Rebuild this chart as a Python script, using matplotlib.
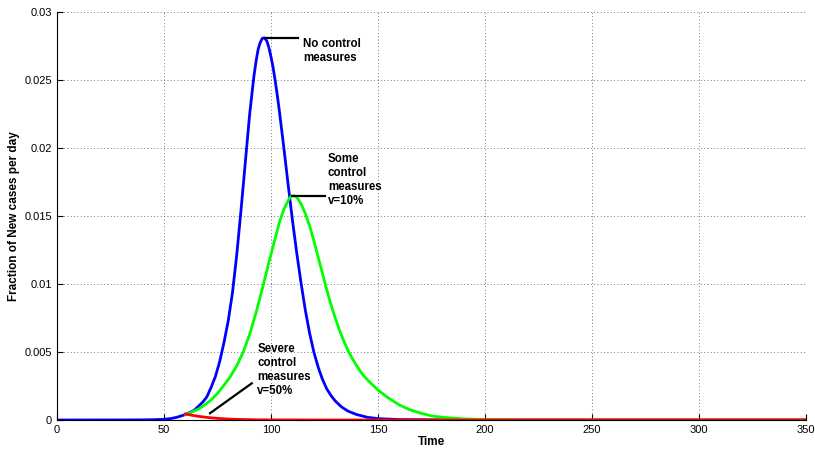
import matplotlib
matplotlib.use("Agg")
import matplotlib.pyplot as plt

plt.rcParams["font.family"] = ["Liberation Sans", "DejaVu Sans"]

# ── curves (time in days, fraction of new cases/day) ──
t_none = [0, 20, 30, 40, 45, 50, 53, 56, 58, 60, 62, 64, 66, 68, 70, 72, 74,
          76, 78, 80, 82, 84, 86, 88, 90, 92, 93, 94, 95, 96, 97, 98, 99, 100,
          101, 102, 103, 104, 106, 108, 110, 112, 114, 116, 118, 120, 122, 124,
          126, 128, 130, 133, 136, 140, 145, 150, 160, 180, 200, 350]
y_none = [0.0, 0.000001, 0.000003, 0.00001, 0.00002, 0.00005, 0.0001, 0.0002,
          0.0003, 0.0004, 0.00055, 0.0007, 0.001, 0.0013, 0.0017, 0.0024,
          0.0032, 0.0043, 0.0057, 0.0073, 0.0094, 0.0122, 0.0155, 0.0190,
          0.0225, 0.0253, 0.0264, 0.0273, 0.0278, 0.0281, 0.0281, 0.0279,
          0.0274, 0.0267, 0.0259, 0.0249, 0.0238, 0.0226, 0.0200, 0.0173,
          0.0147, 0.0123, 0.0101, 0.0081, 0.0064, 0.0050, 0.0039, 0.0030,
          0.0023, 0.0018, 0.0014, 0.00095, 0.00065, 0.0004, 0.0002, 0.0001,
          0.00003, 0.000005, 0.0, 0.0]

t_some = [60, 63, 66, 69, 72, 75, 78, 81, 84, 87, 90, 93, 96, 99, 102, 104,
          106, 108, 109, 110, 111, 112, 114, 116, 118, 120, 122, 124, 126, 128,
          130, 132, 134, 136, 138, 140, 143, 146, 150, 155, 160, 165, 170, 175,
          180, 190, 200, 220, 350]
y_some = [0.0004, 0.00058, 0.0008, 0.0011, 0.00148, 0.00196, 0.00255, 0.0032,
          0.0040, 0.0050, 0.0063, 0.0079, 0.0097, 0.0116, 0.0134, 0.0146,
          0.0155, 0.01615, 0.0164, 0.0165, 0.01648, 0.0164, 0.0159, 0.0152,
          0.0143, 0.0132, 0.0120, 0.0108, 0.0096, 0.0085, 0.0075, 0.0066,
          0.0058, 0.0051, 0.0045, 0.0040, 0.0033, 0.0028, 0.0022, 0.0016,
          0.0011, 0.00075, 0.0005, 0.0003, 0.0002, 0.00008, 0.00003, 0.000005,
          0.0]

t_severe = [60, 63, 66, 70, 75, 80, 85, 95, 120, 350]
y_severe = [0.00044, 0.00035, 0.00027, 0.00019, 0.00012, 0.00007, 0.00004,
            0.00001, 0.0, 0.0]

x_ticks = [0, 50, 100, 150, 200, 250, 300, 350]
y_ticks = [0, 0.005, 0.01, 0.015, 0.02, 0.025, 0.03]
y_tick_labels = ["0", "0.005", "0.01", "0.015", "0.02", "0.025", "0.03"]

fig = plt.figure(figsize=(8.15, 4.5), dpi=100)
ax = fig.add_axes([0.070, 0.0667, 0.919, 0.906])

line_kw = dict(lw=2, solid_joinstyle="round")
ax.plot(t_none, y_none, color="#0000ff", **line_kw)
ax.plot(t_some, y_some, color="#00ff00", **line_kw)
ax.plot(t_severe, y_severe, color="#ff0000", **line_kw)

ax.set_xlim(0, 350)
ax.set_ylim(0, 0.03)
ax.set_xticks(x_ticks)
ax.set_yticks(y_ticks)
ax.set_yticklabels(y_tick_labels)
ax.tick_params(direction="in", length=4, labelsize=8, width=0.8)
ax.spines["top"].set_visible(False)
ax.spines["right"].set_visible(False)
ax.grid(True, color="0.3", linestyle=(0, (1, 3)), linewidth=0.6)
ax.set_axisbelow(True)

ax.set_xlabel("Time", fontsize=8.5, fontweight="bold", labelpad=1)
ax.set_ylabel("Fraction of New cases per day", fontsize=8.5,
              fontweight="bold", labelpad=3)

# ── annotations ──
kw = dict(fontsize=8.3, fontweight="bold", linespacing=1.2)
ax.plot([97, 112.5], [0.0281, 0.0281], color="black", lw=1.6)
ax.text(115, 0.0281, "No control\nmeasures", va="top", ha="left", **kw)

ax.plot([110, 125], [0.0165, 0.0165], color="black", lw=1.6)
ax.text(126.5, 0.0157, "Some\ncontrol\nmeasures\nv=10%", va="bottom",
        ha="left", **kw)

ax.plot([71.5, 91], [0.0005, 0.0027], color="black", lw=1.6)
ax.text(93.5, 0.0017, "Severe\ncontrol\nmeasures\nv=50%", va="bottom",
        ha="left", **kw)

fig.savefig("out.png", dpi=100)
